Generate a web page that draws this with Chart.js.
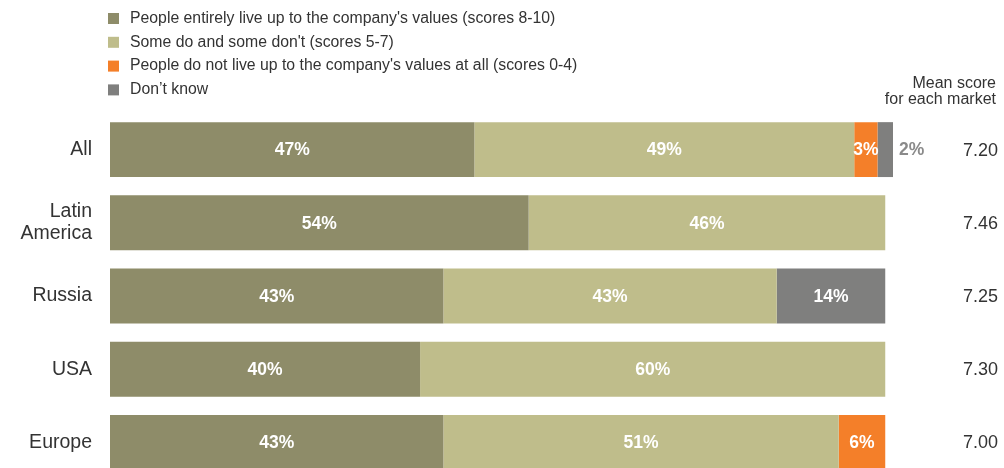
<!DOCTYPE html>
<html>
<head>
<meta charset="utf-8">
<title>Living up to the company's values</title>
<script src="https://cdn.jsdelivr.net/npm/chart.js@4/dist/chart.umd.min.js"></script>
<style>
  html, body { margin: 0; padding: 0; background: #ffffff; overflow: hidden; }
  #chart { display: block; width: 1004px; height: 480px; }
</style>
</head>
<body>
<canvas id="chart" width="1004" height="480"></canvas>
<script>
// Markets (rows) and the share of answers in each group, in percent
const categories = ['All', ['Latin', 'America'], 'Russia', 'USA', 'Europe'];
const liveUp    = [47, 54, 43, 40, 43];
const someDo    = [49, 46, 43, 60, 51];
const notAtAll  = [3, null, null, null, 6];
const dontKnow  = [2, null, 14, null, null];
const meanScores = [7.20, 7.46, 7.25, 7.30, 7.00];

const seriesNames = [
  "People entirely live up to the company's values (scores 8-10)",
  "Some do and some don't (scores 5-7)",
  "People do not live up to the company's values at all (scores 0-4)",
  "Don\u2019t know"
];
const seriesColors = ['#8e8c69', '#bfbd8b', '#f47f29', '#7f7f7e'];
const meanHeader = ['Mean score', 'for each market'];

const FONT = '"Liberation Sans", Arial, sans-serif';

// Square-marker legend in a column above the bars
const legendColumn = {
  id: 'legendColumn',
  afterDraw(chart) {
    const ctx = chart.ctx;
    ctx.save();
    ctx.font = '15.8px ' + FONT;
    ctx.textBaseline = 'middle';
    ctx.textAlign = 'left';
    chart.data.datasets.forEach((ds, i) => {
      const y = 18 + i * 23.8;
      ctx.fillStyle = ds.backgroundColor;
      ctx.fillRect(108, y - 5, 11, 11);
      ctx.fillStyle = '#333333';
      ctx.fillText(ds.label, 130, y + 0.5);
    });
    ctx.restore();
  }
};

// Percent labels on each segment; narrow segments get their label beside the bar
const segmentLabels = {
  id: 'segmentLabels',
  afterDatasetsDraw(chart) {
    const ctx = chart.ctx;
    ctx.save();
    ctx.font = 'bold 17.5px ' + FONT;
    ctx.textBaseline = 'middle';
    chart.data.datasets.forEach((ds, di) => {
      const meta = chart.getDatasetMeta(di);
      meta.data.forEach((bar, i) => {
        const v = ds.data[i];
        if (v === null || v === undefined) return;
        const w = Math.abs(bar.x - bar.base);
        const text = v + '%';
        if (w < 20) {
          ctx.textAlign = 'left';
          ctx.fillStyle = '#8a8a8a';
          ctx.fillText(text, bar.x + 6, bar.y + 1);
        } else {
          ctx.textAlign = 'center';
          ctx.fillStyle = '#ffffff';
          ctx.fillText(text, (bar.x + bar.base) / 2, bar.y + 1);
        }
      });
    });
    ctx.restore();
  }
};

// Mean score column on the right
const meanColumn = {
  id: 'meanColumn',
  afterDraw(chart) {
    const ctx = chart.ctx;
    const y = chart.scales.y;
    ctx.save();
    ctx.fillStyle = '#333333';
    ctx.textAlign = 'right';
    ctx.textBaseline = 'middle';
    ctx.font = '16px ' + FONT;
    ctx.fillText(meanHeader[0], 996, 84);
    ctx.fillText(meanHeader[1], 996, 100);
    ctx.font = '18px ' + FONT;
    meanScores.forEach((m, i) => {
      ctx.fillText(m.toFixed(2), 998, y.getPixelForValue(i) + 1);
    });
    ctx.restore();
  }
};

const datasets = [liveUp, someDo, notAtAll, dontKnow].map((values, i) => ({
  label: seriesNames[i],
  data: values,
  backgroundColor: seriesColors[i],
  borderWidth: 0,
  categoryPercentage: 1.0,
  barPercentage: 0.75
}));

new Chart(document.getElementById('chart'), {
  type: 'bar',
  data: { labels: categories, datasets },
  options: {
    indexAxis: 'y',
    responsive: false,
    animation: false,
    devicePixelRatio: 1,
    layout: { padding: { top: 113, right: 111, bottom: 1, left: 0 } },
    plugins: {
      legend: { display: false },
      tooltip: { enabled: false }
    },
    scales: {
      x: {
        stacked: true,
        min: 0,
        max: 101,
        display: false
      },
      y: {
        stacked: true,
        grid: { display: false, drawTicks: false },
        border: { display: false },
        afterFit(scale) {
          // fixed label column; rows use the full height below the legend
          scale.width = 110;
          scale.paddingTop = 0;
          scale.paddingBottom = 0;
        },
        ticks: {
          padding: 18,
          color: '#333333',
          font: { family: FONT, size: 19.5, lineHeight: 1.12 }
        }
      }
    }
  },
  plugins: [legendColumn, segmentLabels, meanColumn]
});
</script>
</body>
</html>
